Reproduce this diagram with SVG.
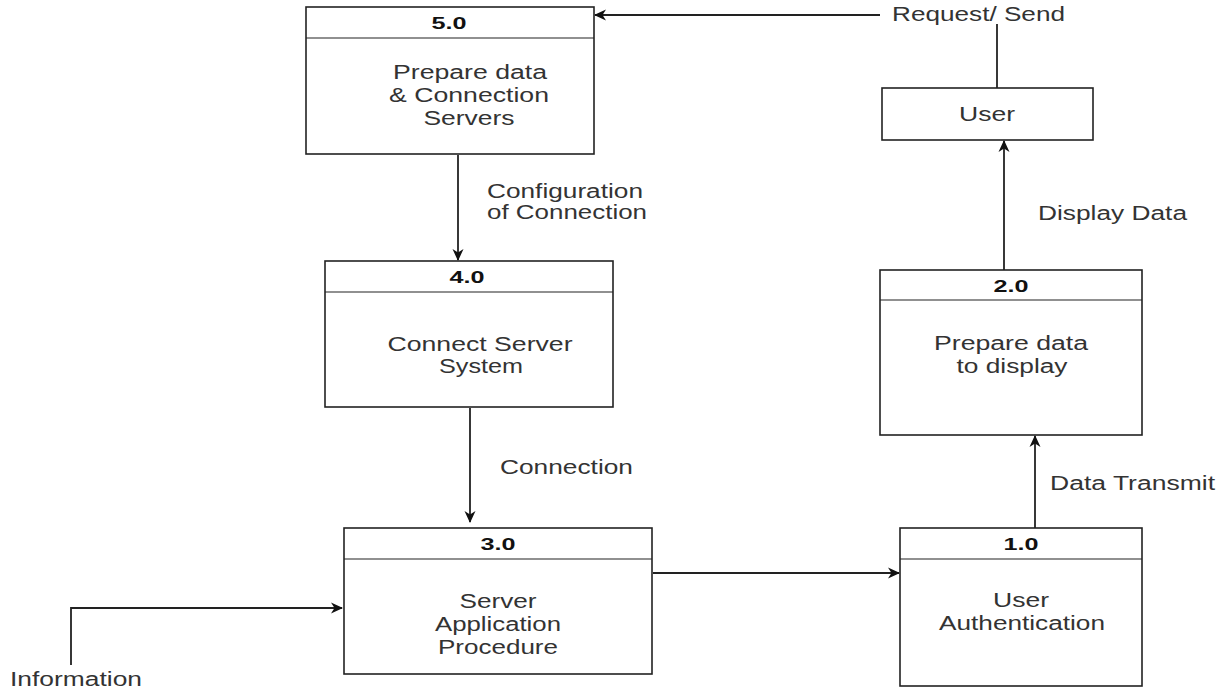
<svg xmlns="http://www.w3.org/2000/svg" width="1224" height="688" viewBox="0 0 1224 688">
<style>
.box{fill:#fff;stroke:#222;stroke-width:1.6}
.div{stroke:#222;stroke-width:1.2}
.hd{font-family:"Liberation Sans",Arial,sans-serif;font-size:17px;font-weight:bold;fill:#111;text-anchor:middle}
.tx{font-family:"Liberation Sans",Arial,sans-serif;font-size:19.5px;fill:#333;text-anchor:middle}
.lb{font-family:"Liberation Sans",Arial,sans-serif;font-size:19.5px;fill:#333}
.ln{fill:none;stroke:#222;stroke-width:1.8}
</style>
<defs>
<marker id="ah" markerWidth="12" markerHeight="12" refX="11" refY="6" orient="auto" markerUnits="userSpaceOnUse">
<path d="M0,0.5 L12,6 L0,11.5 L3.5,6 Z" fill="#111"/>
</marker>
</defs>
<rect width="1224" height="688" fill="#fff"/>
<g id="connectors">
<path class="ln" d="M880,15 L595,15" marker-end="url(#ah)"/>
<path class="ln" d="M997,24 L997,88"/>
<path class="ln" d="M1004,270 L1004,141" marker-end="url(#ah)"/>
<path class="ln" d="M1035,528 L1035,436" marker-end="url(#ah)"/>
<path class="ln" d="M458,155 L458,260" marker-end="url(#ah)"/>
<path class="ln" d="M470,408 L470,522" marker-end="url(#ah)"/>
<path class="ln" d="M653,573 L899,573" marker-end="url(#ah)"/>
<path class="ln" d="M71,665 L71,608 L342,608" marker-end="url(#ah)" stroke="#555"/>
</g>
<g id="labels">
<text class="lb" x="892" y="21" textLength="173" lengthAdjust="spacingAndGlyphs">Request/ Send</text>
<text class="lb" x="1038" y="220" textLength="149" lengthAdjust="spacingAndGlyphs">Display Data</text>
<text class="lb" x="1050" y="490" textLength="165" lengthAdjust="spacingAndGlyphs">Data Transmit</text>
<text class="lb" x="487" y="198" textLength="156" lengthAdjust="spacingAndGlyphs">Configuration</text>
<text class="lb" x="487" y="219" textLength="160" lengthAdjust="spacingAndGlyphs">of Connection</text>
<text class="lb" x="500" y="474" textLength="133" lengthAdjust="spacingAndGlyphs">Connection</text>
<text class="lb" x="10" y="686" textLength="132" lengthAdjust="spacingAndGlyphs">Information</text>
</g>
<g id="node-5">
<rect class="box" x="306" y="7" width="288" height="147"/>
<line class="div" x1="306" y1="38" x2="594" y2="38"/>
<text class="hd" x="449" y="29" textLength="35" lengthAdjust="spacingAndGlyphs">5.0</text>
<text class="tx" x="470" y="79" textLength="154" lengthAdjust="spacingAndGlyphs">Prepare data</text>
<text class="tx" x="469" y="102" textLength="160" lengthAdjust="spacingAndGlyphs">&amp; Connection</text>
<text class="tx" x="469" y="125" textLength="91" lengthAdjust="spacingAndGlyphs">Servers</text>
</g>
<g id="node-user">
<rect class="box" x="882" y="88" width="211" height="52"/>
<text class="tx" x="987" y="121" textLength="56" lengthAdjust="spacingAndGlyphs">User</text>
</g>
<g id="node-4">
<rect class="box" x="325" y="261" width="288" height="146"/>
<line class="div" x1="325" y1="292" x2="613" y2="292"/>
<text class="hd" x="467" y="283" textLength="35" lengthAdjust="spacingAndGlyphs">4.0</text>
<text class="tx" x="480" y="351" textLength="185" lengthAdjust="spacingAndGlyphs">Connect Server</text>
<text class="tx" x="481" y="373" textLength="84" lengthAdjust="spacingAndGlyphs">System</text>
</g>
<g id="node-2">
<rect class="box" x="880" y="270" width="262" height="165"/>
<line class="div" x1="880" y1="300" x2="1142" y2="300"/>
<text class="hd" x="1011" y="292" textLength="35" lengthAdjust="spacingAndGlyphs">2.0</text>
<text class="tx" x="1011" y="350" textLength="154" lengthAdjust="spacingAndGlyphs">Prepare data</text>
<text class="tx" x="1012" y="373" textLength="111" lengthAdjust="spacingAndGlyphs">to display</text>
</g>
<g id="node-3">
<rect class="box" x="344" y="528" width="308" height="146"/>
<line class="div" x1="344" y1="559" x2="652" y2="559"/>
<text class="hd" x="498" y="550" textLength="35" lengthAdjust="spacingAndGlyphs">3.0</text>
<text class="tx" x="498" y="608" textLength="77" lengthAdjust="spacingAndGlyphs">Server</text>
<text class="tx" x="498" y="631" textLength="126" lengthAdjust="spacingAndGlyphs">Application</text>
<text class="tx" x="498" y="654" textLength="120" lengthAdjust="spacingAndGlyphs">Procedure</text>
</g>
<g id="node-1">
<rect class="box" x="900" y="528" width="242" height="158"/>
<line class="div" x1="900" y1="559" x2="1142" y2="559"/>
<text class="hd" x="1021" y="550" textLength="35" lengthAdjust="spacingAndGlyphs">1.0</text>
<text class="tx" x="1021" y="607" textLength="56" lengthAdjust="spacingAndGlyphs">User</text>
<text class="tx" x="1022" y="630" textLength="166" lengthAdjust="spacingAndGlyphs">Authentication</text>
</g>
</svg>
